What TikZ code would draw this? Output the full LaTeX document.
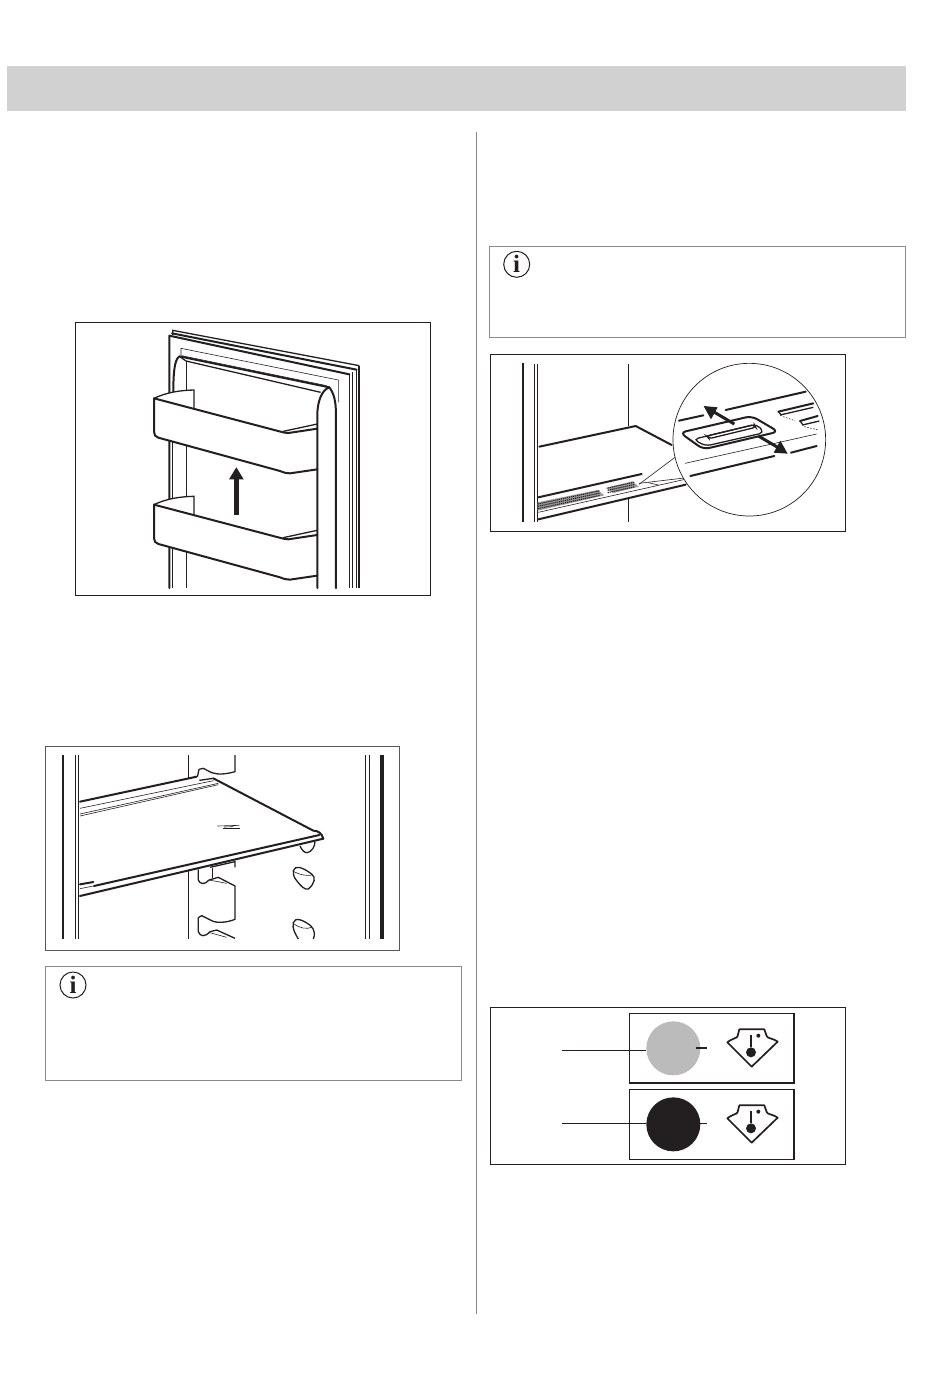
\documentclass[tikz,border=0pt]{standalone}
\usepackage{fontspec}
\setmainfont{Liberation Serif}
\definecolor{ink}{HTML}{231F20}
\definecolor{band}{HTML}{D1D1D1}
\definecolor{rulegray}{HTML}{8A8A8A}
\definecolor{disc}{HTML}{BBBBBB}
\tikzset{
  framebox/.style={draw=ink,line width=0.9pt,fill=white},
  notebox/.style={draw=rulegray,line width=0.7pt},
  thinl/.style={draw=ink,line width=0.6pt},
  midl/.style={draw=ink,line width=1.3pt},
  heavy/.style={draw=ink,line width=2pt,line join=round,line cap=round},
  zoomed/.style={x=0.33333pt,y=-0.33333pt},
  infoicon/.style={circle,draw=ink,line width=1pt,minimum size=26pt,inner sep=0pt,font=\bfseries\fontsize{25}{25}\selectfont,text=ink},
}
\newcommand{\bucket}[1]{%
  \begin{scope}[yshift=#1]
  \fill[white] (252,250) .. controls (290,232) and (330,226) .. (372,225) -- (372,280) -- (742,340) -- (742,462) -- (655,475) -- (262,367) -- (252,355) -- cycle;
  \draw[midl] (252,250) .. controls (290,232) and (330,226) .. (372,225) -- (372,282);
  \draw[heavy] (252,250) -- (632,350) .. controls (640,352) and (645,354) .. (655,354) -- (742,341);
  \draw[midl] (640,349) -- (742,327);
  \draw[heavy] (252,250) -- (252,350) .. controls (252,360) and (256,365) .. (265,368) -- (630,468) .. controls (642,473) and (650,475) .. (660,475) -- (742,463);
  \end{scope}}
\newcommand{\thermo}[1]{%
  \begin{scope}[yshift=#1]
  \draw[draw=ink,line width=1.7pt,line join=round] (727,127) -- (800,200) -- (878,125) .. controls (860,113) and (848,116) .. (845,108) -- (838,88) -- (763,88) -- (758,108) .. controls (755,116) and (745,113) .. cycle;
  \draw[draw=ink,line width=1.8pt] (798,104) -- (798,142);
  \fill[ink] (798,157) circle (15);
  \fill[ink] (820,107) circle (6);
  \end{scope}}
\begin{document}
\begin{tikzpicture}[x=1pt,y=-1pt]
\useasboundingbox (0,0) rectangle (950,1374);
\fill[white] (0,0) rectangle (950,1374);
% header band and column rule
\fill[band] (7,66) rectangle (906,111);
\draw[rulegray,line width=0.7pt] (476,132) -- (476,1314);
% note boxes
\draw[notebox] (45,966) rectangle (461,1080);
\draw[notebox] (489,246) rectangle (905,337);
\node[infoicon] (infoA) at (73,985) {i};
\node[infoicon] (infoB) at (516.7,264.3) {i};

% ---------- Figure 1: door balconies
\begin{scope}[shift={(70,315)},zoomed]
  \draw[framebox] (16,22) rectangle (1082,841);
  % door edge
  \draw[midl] (308,60) -- (308,46) -- (868,152);
  \draw[heavy] (306,55) -- (860,164);
  \draw[heavy] (298,819) -- (298,62) -- (838,178);
  \draw[draw=ink,line width=1.9pt] (868,152) -- (868,819);
  \draw[midl] (838,178) -- (838,819);
  \draw[midl] (848,172) -- (848,819);
  \draw[thinl] (858,164) -- (858,819);
  \draw[midl] (308,380) -- (308,819);
  \draw[thinl] (333,122) -- (333,100) -- (805,195) -- (805,262);
  % gasket
  \draw[heavy] (310,235) .. controls (310,180) and (312,135) .. (328,124) -- (778,217);
  \draw[midl] (328,124) -- (348,138) -- (752,232);
  \draw[thinl] (335,122) -- (770,212);
  \draw[thinl] (348,138) -- (348,819);
  \bucket{0pt}
  \bucket{-106.3pt}
  \draw[heavy] (742,819) -- (742,300) .. controls (742,260) and (755,225) .. (778,217) .. controls (792,235) and (798,260) .. (798,300) -- (798,819);
  % arrow
  \draw[draw=ink,line width=4.6pt] (500,601) -- (500,490);
  \fill[ink] (499,457) -- (521,493) -- (477,493) -- cycle;
\end{scope}

% ---------- Figure 2: shelf
\begin{scope}[shift={(40,740)},zoomed]
  \draw[framebox,draw=ink!75] (17,18) rectangle (1079,630);
  \draw[draw=ink,line width=2.2pt] (69,45) -- (69,597);
  \draw[thinl] (106,45) -- (106,597);
  \draw[thinl] (116,45) -- (116,597);
  \draw[thinl] (445,45) -- (445,597);
  \draw[thinl] (976,45) -- (976,597);
  \draw[thinl] (989,45) -- (989,597);
  \draw[draw=ink,line width=4pt] (1026,45) -- (1026,597);
  % holes
  \draw[midl] (780,318) .. controls (785,330) and (795,340) .. (802,338) .. controls (815,335) and (825,320) .. (825,305);
  \draw[midl] (760,392) .. controls (765,375) and (785,380) .. (815,402) .. controls (828,412) and (825,430) .. (805,447) .. controls (795,452) and (780,435) .. (770,422) .. controls (762,412) and (758,402) .. (760,392);
  \draw[thinl] (762,395) .. controls (780,405) and (800,408) .. (818,405);
  \draw[midl] (775,597) .. controls (768,585) and (755,565) .. (760,548) .. controls (765,530) and (790,540) .. (812,557) .. controls (825,570) and (825,585) .. (820,597);
  \draw[thinl] (762,552) .. controls (780,565) and (800,568) .. (815,562);
  % hooks
  \fill[white] (475,388) -- (585,365) -- (585,600) -- (475,600) -- cycle;
  \draw[midl,line join=round] (585,45) -- (585,95) .. controls (560,102) and (535,105) .. (515,98) -- (490,85) -- (477,88) -- (472,112);
  \draw[midl] (510,382) -- (585,365) -- (585,382);
  \draw[midl] (518,385) -- (518,414);
  \draw[midl,line join=round] (475,388) -- (475,420) .. controls (478,432) and (495,436) .. (507,420) -- (535,412) -- (585,438) -- (585,538) .. controls (560,548) and (530,550) .. (515,542) -- (485,527) -- (475,533) -- (475,575) .. controls (480,590) and (495,592) .. (510,575) -- (530,570) -- (585,595);
  \draw[thinl] (507,420) -- (560,430);
  \draw[thinl] (510,578) -- (560,592);
  % shelf
  \fill[white] (120,185) -- (470,110) -- (520,115) -- (820,272) -- (850,296) -- (120,468) -- cycle;
  \draw[heavy] (120,185) -- (470,110);
  \draw[midl] (478,121) -- (520,115);
  \draw[thinl] (120,205) -- (520,122);
  \draw[thinl] (120,222) -- (535,130);
  \draw[thinl] (120,228) -- (535,134);
  \draw[heavy] (520,115) -- (820,272) .. controls (835,272) and (845,280) .. (850,296);
  \draw[heavy] (162,438) -- (838,285);
  \draw[heavy] (120,468) -- (850,296);
  \draw[heavy] (120,433) -- (160,426);
  \draw[thinl] (120,446) -- (160,438);
  \draw[thinl] (532,258) -- (598,256);
  \draw[thinl] (552,261) -- (580,260);
  \draw[thinl] (548,265) -- (600,265);
\end{scope}

% ---------- Figure 3: air damper
\begin{scope}[shift={(485,350)},zoomed]
  \draw[framebox] (16,13) rectangle (1082,544);
  \draw[draw=ink,line width=1.9pt] (115,40) -- (115,515);
  \draw[thinl] (148,42) -- (148,515);
  \draw[thinl] (157,42) -- (157,515);
  \draw[thinl] (430,42) -- (430,227);
  \draw[thinl] (430,445) -- (430,515);
  \draw[heavy] (163,290) -- (452,228) -- (560,285);
  \draw[heavy] (160,442) -- (470,372);
  \draw[heavy] (160,508) -- (602,404);
  \draw[thinl] (160,487) -- (600,388);
  \draw[thinl] (570,322) -- (462,403);
  \draw[thinl] (462,400) -- (598,384);
  \draw[thinl] (490,398) -- (520,405);
  % grilles
  \fill[ink!45] (158,457) -- (338,420) -- (358,436) -- (158,482) -- cycle;
  \foreach \t in {0,7,14}{\draw[draw=ink,line width=1.1pt,dash pattern=on 1.2pt off 0.8pt] (158,{462+\t}) -- (345,{422+\t});}
  \fill[ink!45] (362,414) -- (442,394) -- (462,410) -- (385,429) -- cycle;
  \foreach \t in {0,7,14}{\draw[draw=ink,line width=1.1pt,dash pattern=on 1.2pt off 0.8pt] (368,{414+\t}) -- (450,{396+\t});}
  % magnifier
  \path[fill=white,draw=ink,line width=0.7pt] (793,269) circle (229);
  \draw[heavy] (582,212) -- (655,196);
  \draw[heavy] (722,180) -- (962,125);
  \draw[thinl] (600,340) -- (995,252);
  \draw[heavy] (616,378) -- (868,318);
  \draw[heavy] (918,308) -- (995,288);
  % plate
  \draw[heavy,fill=white,rounded corners=6pt] (585,248) -- (800,198) -- (880,245) -- (655,298) -- cycle;
  \draw[midl,rounded corners=5pt] (625,268) -- (815,222) -- (838,248) -- (662,288) -- cycle;
  \draw[midl,rounded corners=3pt] (665,258) -- (808,224) -- (812,232) -- (672,266) -- cycle;
  % arrows
  \draw[draw=ink,line width=3pt] (748,222) -- (685,185);
  \fill[ink] (656,168) -- (698,172) -- (678,208) -- cycle;
  \draw[draw=ink,line width=3pt] (820,258) -- (880,293);
  \fill[ink] (908,311) -- (866,308) -- (886,272) -- cycle;
  % other openings
  \draw[heavy] (880,185) -- (985,160);
  \draw[midl] (885,195) -- (985,172);
  \draw[midl] (880,185) -- (890,196);
  \draw[thinl,dash pattern=on 1.5pt off 1.5pt] (895,200) -- (930,212);
  \draw[heavy] (945,213) -- (998,198);
  \draw[midl] (952,225) -- (1003,213);
  \draw[midl] (945,213) -- (955,226);
  \draw[thinl,dash pattern=on 1.5pt off 1.5pt] (958,230) -- (1000,240);
\end{scope}

% ---------- Figure 4: indicator
\begin{scope}[shift={(485,1000)},zoomed]
  \draw[framebox] (16,22) rectangle (1082,493);
  \draw[draw=ink,line width=1.5pt] (433,41) rectangle (927,249);
  \draw[draw=ink,line width=1.5pt] (433,268) rectangle (927,478);
  \node[circle,fill=disc,minimum size=54pt,inner sep=0pt] (lightdisc) at (565,145) {};
  \node[circle,fill=ink,minimum size=54pt,inner sep=0pt] (darkdisc) at (565,373) {};
  \coordinate (leadA) at (230,150);
  \coordinate (leadB) at (230,370);
  \coordinate (tickA) at (667,144);
  \coordinate (tickB) at (665,371);
  \draw[thinl] (leadA) -- (lightdisc.west |- leadA);
  \draw[thinl] (leadB) -- (darkdisc.west |- leadB);
  \draw[draw=ink,line width=1.2pt] (632,144) -- (tickA);
  \draw[draw=ink,line width=1.2pt] (645,371) -- (tickB);
  \thermo{0pt}
  \thermo{-76pt}
\end{scope}
\end{tikzpicture}
\end{document}
